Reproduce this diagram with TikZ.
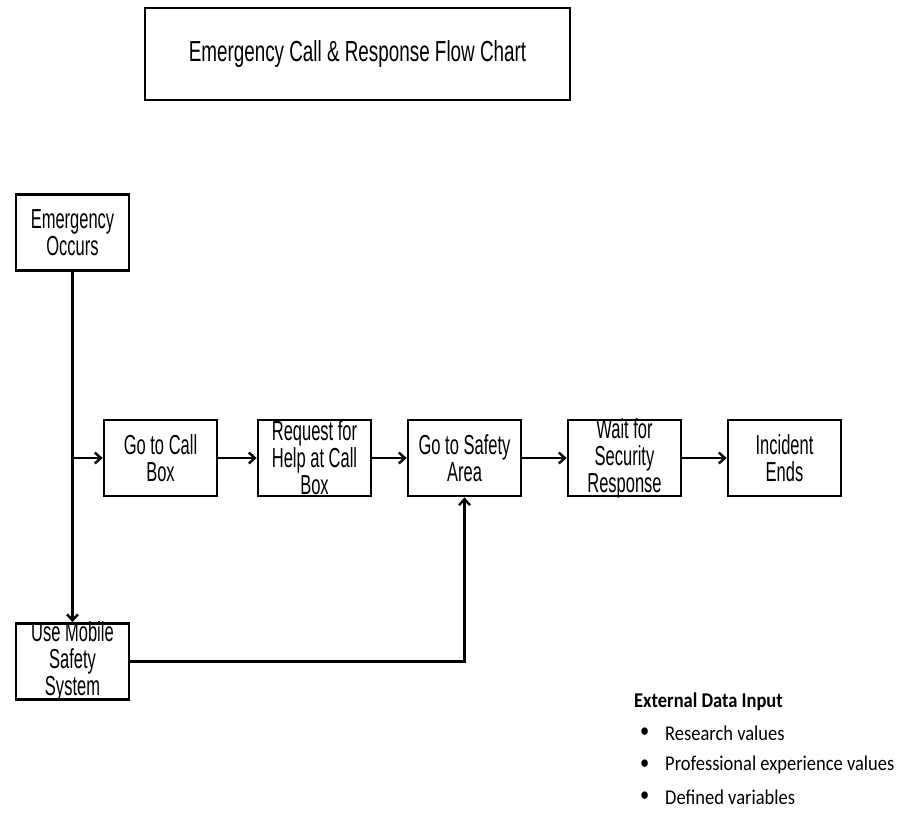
\documentclass[tikz,border=0pt]{standalone}
\usepackage{fontspec}
\usetikzlibrary{arrows.meta}
\newfontfamily\boxfont[FakeStretch=0.6]{Liberation Sans}
\newfontfamily\titlefont[FakeStretch=0.65]{Liberation Sans}
\newfontfamily\notefont[FakeStretch=0.88]{Carlito}

\begin{document}
\begin{tikzpicture}[x=1pt,y=-1pt]

	% INPUTS:
	\newcommand{\boxwd}{113pt}		% width of a step box
	\newcommand{\boxht}{76pt}		% height of a step box
	\newcommand{\rowy}{458}			% height of the main row
	\newcommand{\steptext}[1]{\parbox[c][30pt][c]{\boxwd}{\centering #1}}

	% styles
	\tikzstyle{stepbox}=[draw,line width=2.8pt,inner sep=0pt,minimum width=\boxwd,minimum height=\boxht,font=\boxfont\fontsize{27.5pt}{27pt}\selectfont]
	\tikzstyle{flow}=[line width=2.4pt,-{Straight Barb[length=6pt,width=11pt]}]
	\tikzstyle{note}=[anchor=west,inner sep=0pt,font=\notefont\fontsize{21pt}{21pt}\selectfont]

	% page frame
	\useasboundingbox (0,0) rectangle (899,819);

	% title
	\node[stepbox,minimum width=425pt,minimum height=92pt,font=\titlefont\fontsize{29pt}{29pt}\selectfont] (title) at (357.5,54) {Emergency Call \& Response Flow Chart};

	% the step boxes
	\node[stepbox] (emg) at (72.5,232.5) {\steptext{Emergency\\Occurs}};
	\node[stepbox] (call) at (160.5,\rowy) {\steptext{Go to Call\\Box}};
	\node[stepbox] (req) at (314.5,\rowy) {\steptext{Request for\\Help at Call\\Box}};
	\node[stepbox] (safe) at (464.5,\rowy) {\steptext{Go to Safety\\Area}};
	\node[stepbox] (wait) at (624.5,\rowy) {\steptext{Wait for\\Security\\Response}};
	\node[stepbox] (ends) at (784.5,\rowy) {\steptext{Incident\\Ends}};
	\node[stepbox] (mob) at (72.5,661.5) {\steptext{Use Mobile\\Safety\\System}};

	% connectors
	\draw[flow] (emg.south) -- (mob.north);
	\draw[flow] (emg.south |- call.west) -- (call.west);
	\draw[flow] (call.east) -- (req.west);
	\draw[flow] (req.east) -- (safe.west);
	\draw[flow] (safe.east) -- (wait.west);
	\draw[flow] (wait.east) -- (ends.west);
	\draw[flow] (mob.east) -| (safe.south);

	% external data input
	\node[note,font=\notefont\bfseries\fontsize{21pt}{21pt}\selectfont] (ext) at (634,702) {External Data Input};
	\node[note] (dot1) at (640,733) {\textbullet};
	\node[note] (item1) at (665,733) {Research values};
	\node[note] (dot2) at (640,765) {\textbullet};
	\node[note] (item2) at (665,765) {Professional experience values};
	\node[note] (dot3) at (640,797) {\textbullet};
	\node[note] (item3) at (665,797) {Defined variables};

\end{tikzpicture}
\end{document}
